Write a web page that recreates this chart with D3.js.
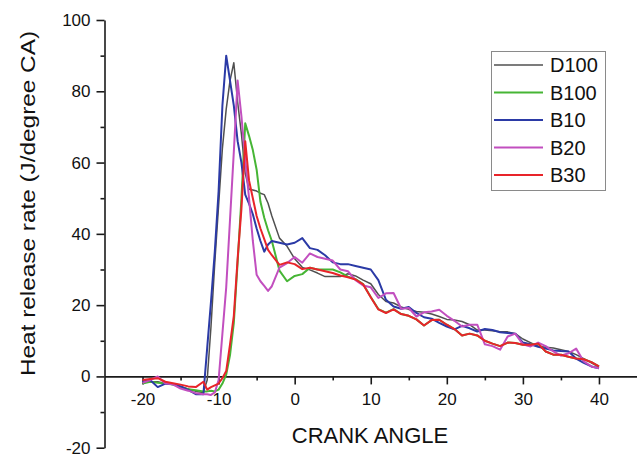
<!DOCTYPE html>
<html><head><meta charset="utf-8">
<script src="https://cdn.jsdelivr.net/npm/d3@7"></script>
<style>body{margin:0;background:#fff}svg{display:block}text{font-family:"Liberation Sans",Arial,sans-serif;fill:#111}</style>
</head><body><svg id="c" width="637" height="457"></svg>
<script>
const angles = [-20,-19,-18,-17,-16,-15,-14,-13,
  -12,-11.5,-11,-10.5,-10,-9.5,-9,-8.5,-8,-7.5,-7,-6.5,-6,-5.5,-5,-4.5,-4,-3.5,-3,
  -2,-1,0,1,2,3,4,5,6,7,8,9,10,11,12,13,14,15,16,17,18,19,20,21,22,23,24,25,26,27,28,29,30,31,32,33,34,35,36,37,38,39,40];
const D100 = [-1.8,-1.5,-1.5,-2,-2.2,-2.8,-3.5,-4.2,
  -4.5,-1,14,32,48,64,75,83,88,77,68,57,52.5,52.3,52,51.4,51,48.6,45,
  38.8,36.5,33,30.6,29.9,29,28,28,28,28.8,28.2,27,26,23,21,20.6,19.5,18.8,18.2,18,17.5,16.8,16,15.8,15.4,14.5,13,13,12.8,12.5,12.5,12,10.5,9.5,8.5,8.2,8,7.5,7,6.1,5,3.8,2.6];
const B100 = [-2,-1.5,-1.8,-2,-2.3,-3,-3.6,-3.9,
  -4.2,-4.2,-4,-4.2,-3.7,-2,0.5,6,15,32,50,71,67.5,63.5,58,49,44.5,41,38,
  29.7,26.7,28.2,28.7,30.5,30,30,30,29.2,28,27.3,25.9,22.3,18.9,17.9,18.9,17.5,17,16,14.3,15.8,15.9,14.5,13.3,11.5,12,11.5,10,9.2,8.5,9.5,9.4,8.9,8.9,9.2,7,6.1,6.1,5.5,5,4.8,4,2.8];
const B10 = [-1.5,-1,-3,-2,-2.2,-2.8,-3.8,-5,
  -5,8,21,35,52,76,90,83,76,66,60,51,48.5,45.5,41.5,38,35,37,38,
  37.5,37,37.5,38.8,36,35.5,34,32,31.5,31.5,31,30.5,30,27,21.5,19.6,19,19.5,17.8,16.6,16.2,15,14,13.2,14.2,13.5,12.6,13.3,13,12.4,12.2,12,9.5,9,8.3,7.8,7.3,7.1,7,5,3.8,2.8,2.3];
const B20 = [-1.8,-1,0,-2,-2.2,-3.4,-4,-4.7,
  -5,-5,-5.2,-4.5,-1,12,25,44,63,83,73,61,50,38,28.5,26.7,25.4,24,25.3,
  30.5,31.8,33.5,31.9,34.5,33.5,33,32.5,30,29.5,27,25.5,25,22,23.3,23.4,19,19.2,16.8,18,18.2,18.7,17,15.6,14,14.5,14.5,9,8.5,7.5,11.2,12,9,8.4,9.5,8.5,7,5.8,6.5,7.8,4.2,2.8,2.3];
const B30 = [-1,-0.7,-0.5,-1.5,-1.9,-2.3,-2.8,-3,
  -1.5,-3.7,-3,-2.5,-2,-0.5,1.5,9,17,33,47,66,55,50,45,41.5,38.5,35.5,34,
  31.3,32,31.5,30.1,30.5,30,29.5,29,28.3,27.8,27.2,25.8,22.2,18.8,17.8,18.8,17.5,17,16,14.3,15.8,15.9,14.5,13.3,11.5,12,11.5,10,9.2,8.5,9.5,9.4,8.9,8.9,9.2,7,6.1,6.1,5.5,5,4.8,4,2.8];
const seriesNames = ["D100","B100","B10","B20","B30"];
const seriesValues = [D100,B100,B10,B20,B30];
const seriesColors = ["#505050","#46b535","#2b3aa6","#c24fbf","#e8242a"];
const seriesWidths = [1.5,2,2,2,2];
const xTicks = [-20,-10,0,10,20,30,40];
const xMinor = [-15,-5,5,15,25,35];
const yTicks = [-20,0,20,40,60,80,100];
const yMinor = [-10,10,30,50,70,90];

const svg = d3.select("#c");
const x = d3.scaleLinear().domain([-25,45]).range([104.5,637]);
const y = d3.scaleLinear().domain([-20,100]).range([447.7,20]);
const fmt = d => String(d);

// y axis
const gy = svg.append("g").attr("transform","translate(104.5,0)");
gy.call(d3.axisLeft(y).tickValues(yTicks).tickFormat(fmt).tickSize(8).tickPadding(6).tickSizeOuter(0));
gy.append("g").call(d3.axisLeft(y).tickValues(yMinor).tickSize(4).tickFormat("")).select(".domain").remove();
// x axis
const gx = svg.append("g").attr("transform",`translate(0,${y(0)})`);
gx.call(d3.axisBottom(x).tickValues(xTicks).tickFormat(fmt).tickSize(8).tickPadding(9).tickSizeOuter(0));
gx.append("g").call(d3.axisBottom(x).tickValues(xMinor).tickSize(4).tickFormat("")).select(".domain").remove();
svg.selectAll(".domain, .tick line").attr("stroke","#1a1a1a").attr("stroke-width",1.6);
svg.selectAll(".tick text").style("font-size","17px").style("font-family",'"Liberation Sans",Arial,sans-serif').attr("fill","#111");

// lines
const line = d3.line().x((d,i)=>x(angles[i])).y(d=>y(d));
seriesValues.forEach((vals,k)=>{
  svg.append("path").datum(vals).attr("d",line).attr("fill","none")
    .attr("stroke",seriesColors[k]).attr("stroke-width",seriesWidths[k]).attr("stroke-linejoin","round");
});

// axis labels
svg.append("text").attr("transform","translate(35,203.5) rotate(-90)").attr("text-anchor","middle")
  .style("font-size","20px").attr("textLength",345).attr("lengthAdjust","spacingAndGlyphs")
  .text("Heat release rate (J/degree CA)");
svg.append("text").attr("x",370).attr("y",443).attr("text-anchor","middle").style("font-size","22px").text("CRANK ANGLE");

// legend
const lg = svg.append("g");
lg.append("rect").attr("x",491.5).attr("y",51.5).attr("width",114).attr("height",139)
  .attr("fill","#fff").attr("stroke","#8a8a8a").attr("stroke-width",1);
seriesNames.forEach((n,i)=>{
  const cy = 65 + i*27.5;
  lg.append("line").attr("x1",494).attr("x2",543).attr("y1",cy).attr("y2",cy)
    .attr("stroke",seriesColors[i]).attr("stroke-width",seriesWidths[i]);
  lg.append("text").attr("x",550).attr("y",cy+7).style("font-size","20px").text(n);
});
</script></body></html>
